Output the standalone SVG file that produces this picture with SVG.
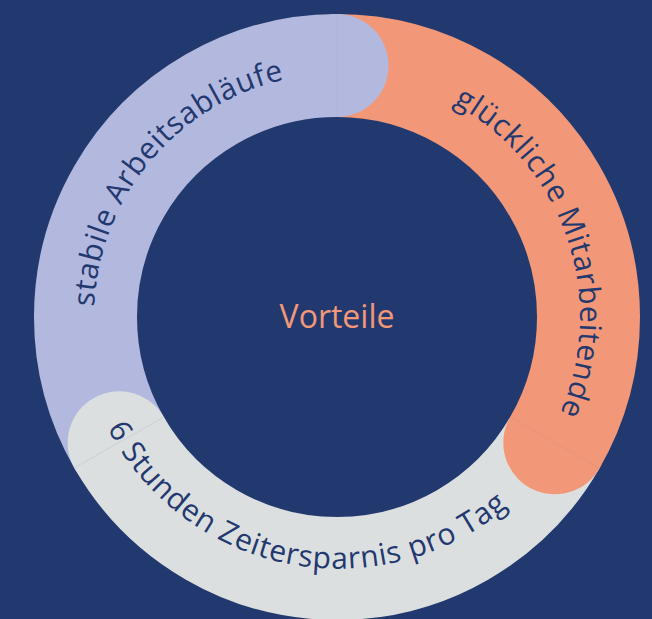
<svg xmlns="http://www.w3.org/2000/svg" width="652" height="619" viewBox="0 0 652 619">
<style>
.seg{fill:none;stroke-width:103;stroke-linecap:butt}
.lav{stroke:#b3b9de}
.ora{stroke:#f29878}
.gry{stroke:#dcdfdf}
.lbl{font-family:"Open Sans","Noto Sans",sans-serif;font-size:30px;letter-spacing:0.7px;fill:#22386f}
.seam{stroke-width:0.8;opacity:0.35}
</style>
<defs>
<path id="pLav" d="M 165.17 488.83 A 243 243 0 0 1 476.38 117.94"/>
<path id="pOra" d="M 278.21 81.22 A 243 243 0 0 1 435.84 538.99"/>
<path id="pGry" d="M 78.43 289.82 A 261 261 0 0 0 586.94 388.66"/>
</defs>
<rect width="652" height="619" fill="#22396f"/>
<g id="ring">
<path class="seg lav" d="M 119.19 442.75 A 251.5 251.5 0 0 1 337 65.5"/>
<path class="seg ora" d="M 337 65.5 A 251.5 251.5 0 0 1 554.81 442.75"/>
<path class="seg gry" d="M 554.81 442.75 A 251.5 251.5 0 0 1 119.19 442.75"/>
<circle cx="337" cy="65.5" r="51.5" fill="#b3b9de"/>
<circle cx="554.81" cy="442.75" r="51.5" fill="#f29878"/>
<circle cx="119.19" cy="442.75" r="51.5" fill="#dcdfdf"/>
<line class="seam" x1="337" y1="14" x2="337" y2="117" stroke="#a0a6cc"/>
<line class="seam" x1="510" y1="417" x2="599" y2="468" stroke="#d08870"/>
<line class="seam" x1="74" y1="468" x2="164" y2="417" stroke="#a0a6cc"/>
</g>
<g id="center">
<text x="337" y="328" text-anchor="middle" font-family="Open Sans, Noto Sans, sans-serif" font-size="32" fill="#f29878">Vorteile</text>
</g>
<g id="node-stabil">
<text class="lbl"><textPath href="#pLav" startOffset="50%" text-anchor="middle">stabile Arbeitsabläufe</textPath></text>
</g>
<g id="node-gluecklich">
<text class="lbl"><textPath href="#pOra" startOffset="50%" text-anchor="middle">glückliche Mitarbeitende</textPath></text>
</g>
<g id="node-zeit">
<text class="lbl"><textPath href="#pGry" startOffset="50%" text-anchor="middle">6 Stunden Zeitersparnis pro Tag</textPath></text>
</g>
</svg>
